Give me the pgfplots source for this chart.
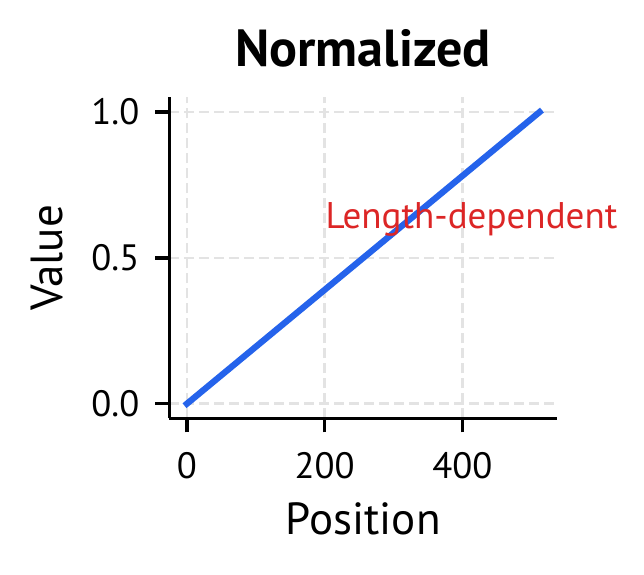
\documentclass[border=0pt]{standalone}
\usepackage{fontspec}
\setmainfont{PT Sans}
\usepackage{pgfplots}
\pgfplotsset{compat=1.18}
\definecolor{lineblue}{HTML}{2563EB}
\definecolor{annred}{HTML}{DC2626}
\definecolor{gridgray}{HTML}{E3E3E3}
\begin{document}
\fontsize{8.8pt}{10pt}\selectfont
\begin{tikzpicture}
\path[use as bounding box] (-40.63pt,-37.37pt) rectangle (113.93pt,100.39pt);
\begin{axis}[
  at={(0,0)}, anchor=south west,
  scale only axis, width=93.1pt, height=77pt,
  xmin=-25.6, xmax=537.6, ymin=-0.05, ymax=1.05,
  clip=false,
  axis x line*=bottom, axis y line*=left,
  axis line style={black, line width=0.8pt, -},
  xtick={0,200,400}, ytick={0,0.5,1},
  tick align=outside, major tick length=3.4pt,
  tick style={black, line width=0.8pt},
  grid=major,
  grid style={gridgray, line width=0.6pt, dash pattern=on 2.4pt off 1.2pt},
  /pgf/number format/assume math mode=true,
  tick label style={font=\fontsize{8.8pt}{10pt}\selectfont, inner sep=0pt},
  yticklabel style={/pgf/number format/fixed, /pgf/number format/precision=1, /pgf/number format/fixed zerofill, anchor=east, xshift=-3.6pt},
  xticklabel style={anchor=north, yshift=-4.6pt},
  title={\bfseries Normalized},
  title style={at={(axis description cs:0.5,1.0955)}, anchor=base, yshift=-6pt, inner sep=0pt, font=\fontsize{12.5pt}{14pt}\selectfont},
  xlabel={Position},
  xlabel style={at={(axis description cs:0.5,-0.3636)}, anchor=base, inner sep=0pt, font=\fontsize{10.8pt}{12pt}\selectfont},
  ylabel={Value},
  ylabel style={at={(axis description cs:-0.275,0.5)}, anchor=base, inner sep=0pt, font=\fontsize{10.8pt}{12pt}\selectfont},
]
\addplot[lineblue, line width=1.5pt, line cap=rect] coordinates {
  (0,0) (128,0.25) (256,0.5) (384,0.75) (512,1.0)
};
\node[anchor=base west, inner sep=0pt, text=annred, font=\fontsize{8.9pt}{11pt}\selectfont] at (axis cs:200,0.6) {Length-dependent};
\end{axis}
\end{tikzpicture}
\end{document}
